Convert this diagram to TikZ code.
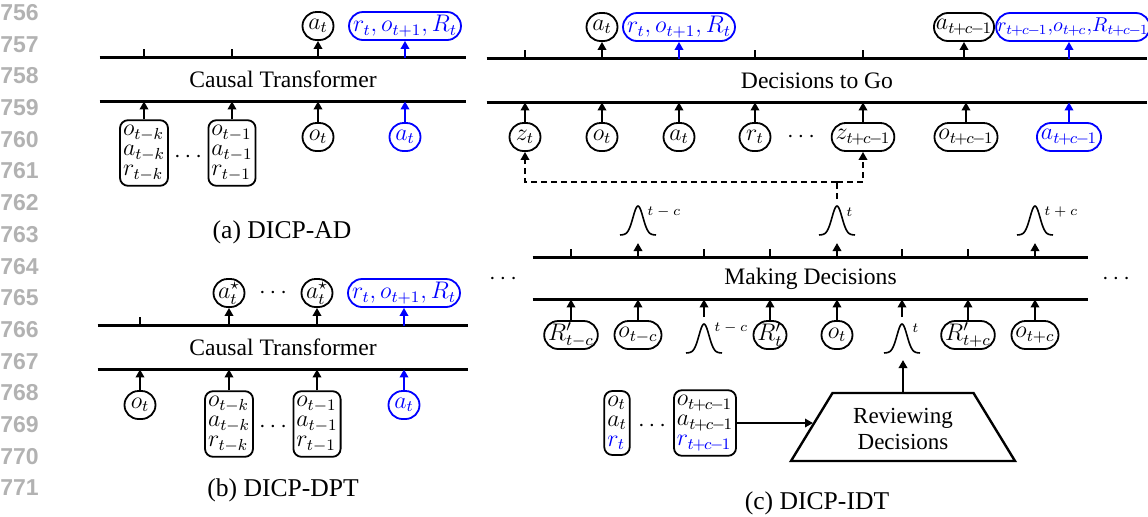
\documentclass[tikz,border=0pt]{standalone}
\usepackage{fontspec}
\setmainfont{Liberation Serif}
\setsansfont{Liberation Sans}
\usetikzlibrary{arrows.meta}
\definecolor{lngray}{RGB}{178,178,178}
\definecolor{pblue}{RGB}{0,0,255}
\newcommand{\tcmo}{t\mkern-1.5mu+\mkern-1.5mu c\mkern-1.5mu-\mkern-1.5mu 1}
\newcommand{\tpcx}{t\mkern-1.5mu+\mkern-1.5mu c}
\tikzset{
  fnt/.style={font=\fontsize{11.5}{13}\selectfont},
  bar/.style={font=\fontsize{11.8}{13}\selectfont, minimum height=21.5pt, inner sep=0pt},
  barline/.style={line width=1.3pt},
  tok/.style={fnt, draw, line width=0.9pt, rounded corners=7pt, minimum width=15.5pt,
    minimum height=14pt, inner xsep=2pt, inner ysep=0pt},
  btok/.style={tok, pblue, text=pblue},
  stack/.style={draw, line width=0.9pt, rounded corners=4pt, align=left,
    inner xsep=1.5pt, inner ysep=2.5pt, font=\fontsize{11.5}{10}\selectfont},
  arr/.style={line width=1pt, -{Triangle[length=4pt,width=4.2pt]}},
  barr/.style={arr, pblue},
  tk/.style={line width=1pt},
  dsh/.style={line width=1.2pt, dash pattern=on 3pt off 2pt},
  dotsn/.style={font=\fontsize{12.5}{13}\selectfont, inner sep=0pt},
  captext/.style={font=\fontsize{12.8}{14}\selectfont},
  lnum/.style={font=\fontsize{11.5}{12}\selectfont\sffamily\bfseries, text=lngray, anchor=west, inner sep=0pt},
  glab/.style={font=\fontsize{7}{8}\selectfont, anchor=west, inner sep=0pt},
  revtext/.style={fnt, align=center, inner sep=0pt},
  trapline/.style={line width=1.2pt, line join=miter},
  gausspk/.pic={\draw[line width=0.8pt] plot[smooth, domain=-18:18, samples=37] (\x,{-29*exp(-(\x*\x)/50)});}
}
\begin{document}
\begin{tikzpicture}[x=0.5pt,y=-0.5pt]
\useasboundingbox (0,0) rectangle (1148,516);

% line numbers
\foreach \i in {0,...,15}{
  \pgfmathtruncatemacro{\ln}{756+\i}
  \node[lnum] (ln\i) at (0,{12.5+31.7*\i}) {\ln};
}

% ---------------- (a) DICP-AD ----------------
\node[bar, minimum width=183pt] (barA) at (283,79.5) {Causal Transformer};
\draw[barline] (barA.north west) -- (barA.north east);
\draw[barline] (barA.south west) -- (barA.south east);
\coordinate (tA1) at (144,58);
\coordinate (tA2) at (232,58);
\draw[tk] (tA1) -- ++(0,-9);
\draw[tk] (tA2) -- ++(0,-9);

\node[tok] (aA) at (318,26) {$a_t$};
\node[btok] (rA) at (405,26) {$r_t, o_{t+1}, R_t$};
\draw[arr] (aA.south |- barA.north) -- (aA.south);
\draw[barr] (rA.south |- barA.north) -- (rA.south);

\node[stack] (sA1) at (144,153) {$o_{t-k}$\\$a_{t-k}$\\$r_{t-k}$};
\node[dotsn] (dA) at (188,157) {$\cdots$};
\node[stack] (sA2) at (232,153) {$o_{t-1}$\\$a_{t-1}$\\$r_{t-1}$};
\node[tok] (oA) at (318,137) {$o_t$};
\node[btok] (baA) at (405,137) {$a_t$};
\foreach \n in {sA1,sA2,oA}{\draw[arr] (\n.north) -- (\n.north |- barA.south);}
\draw[barr] (baA.north) -- (baA.north |- barA.south);
\node[captext] (capA) at (282,232) {(a) DICP-AD};

% ---------------- (b) DICP-DPT ----------------
\node[bar, minimum width=185pt] (barB) at (283,347.5) {Causal Transformer};
\draw[barline] (barB.north west) -- (barB.north east);
\draw[barline] (barB.south west) -- (barB.south east);
\coordinate (tB1) at (140,326);
\draw[tk] (tB1) -- ++(0,-9);

\node[tok] (asB1) at (229,293) {$a_t^{\star}$};
\node[dotsn] (dB1) at (273,293) {$\cdots$};
\node[tok] (asB2) at (317,293) {$a_t^{\star}$};
\node[btok] (rB) at (404,293) {$r_t, o_{t+1}, R_t$};
\draw[arr] (asB1.south |- barB.north) -- (asB1.south);
\draw[arr] (asB2.south |- barB.north) -- (asB2.south);
\draw[barr] (rB.south |- barB.north) -- (rB.south);

\node[tok] (oB) at (140,405) {$o_t$};
\node[stack] (sB1) at (229,424) {$o_{t-k}$\\$a_{t-k}$\\$r_{t-k}$};
\node[dotsn] (dB2) at (273,427) {$\cdots$};
\node[stack] (sB2) at (317,424) {$o_{t-1}$\\$a_{t-1}$\\$r_{t-1}$};
\node[btok] (baB) at (404,405) {$a_t$};
\foreach \n in {oB,sB1,sB2}{\draw[arr] (\n.north) -- (\n.north |- barB.south);}
\draw[barr] (baB.north) -- (baB.north |- barB.south);
\node[captext] (capB) at (283,490) {(b) DICP-DPT};

% ---------------- (c) DICP-IDT ----------------
\node[bar, minimum width=330pt] (barC) at (817,80.5) {Decisions to Go};
\draw[barline] (barC.north west) -- (barC.north east);
\draw[barline] (barC.south west) -- (barC.south east);
\foreach \x/\k in {525/1,755/2,863/3}{
  \coordinate (tC\k) at (\x,59);
  \draw[tk] (tC\k) -- ++(0,-9);
}
\node[tok] (aC1) at (602,27) {$a_t$};
\node[btok] (rC1) at (679,27) {$r_t, o_{t+1}, R_t$};
\node[tok, inner xsep=1pt] (aC2) at (964,27) {$a_{\tcmo}$};
\node[btok, font=\fontsize{10.2}{12}\selectfont, inner xsep=0.5pt] (rC2) at (1073,27) {$r_{\tcmo},\!o_{\tpcx},\!R_{\tcmo}$};
\draw[arr] (aC2.south |- barC.north) -- (aC2.south);
\draw[arr] (aC1.south |- barC.north) -- (aC1.south);
\draw[barr] (rC1.south |- barC.north) -- (rC1.south);
\draw[barr] ([xshift=-2pt]rC2.south |- barC.north) -- ([xshift=-2pt]rC2.south);

\node[tok] (zC1) at (525,137) {$z_t$};
\node[tok] (oC1) at (602,137) {$o_t$};
\node[tok] (aC3) at (679,137) {$a_t$};
\node[tok] (rC3) at (755,137) {$r_t$};
\node[dotsn] (dC1) at (801,137) {$\cdots$};
\node[tok] (zC2) at (863,137) {$z_{\tcmo}$};
\node[tok] (oC2) at (966,137) {$o_{\tcmo}$};
\node[btok] (aC4) at (1069,137) {$a_{\tcmo}$};
\foreach \n in {zC1,oC1,aC3,rC3,zC2,oC2}{\draw[arr] (\n.north) -- (\n.north |- barC.south);}
\draw[barr] (aC4.north) -- (aC4.north |- barC.south);

% dashed connections
\coordinate (dj) at (837,182);
\coordinate (gj) at (837,199);
\draw[dsh] (gj) -- (dj);
\draw[dsh, arr] (dj) -| (zC1.south);
\draw[dsh, arr] (dj) -| (zC2.south);

% Making Decisions
\node[bar, minimum width=277.5pt, minimum height=20.5pt] (barM) at (810.5,278.5) {Making Decisions};
\draw[barline] (barM.north west) -- (barM.north east);
\draw[barline] (barM.south west) -- (barM.south east);
\node[dotsn] (dM1) at (503,279) {$\cdots$};
\node[dotsn] (dM2) at (1116,279) {$\cdots$};
\foreach \x/\k in {571/1,704/2,770/3,902/4,968/5}{
  \coordinate (tM\k) at (\x,258);
  \draw[tk] (tM\k) -- ++(0,-9);
}
% top gaussians
\foreach \x/\lab/\k in {638/{t-c}/1,837/{t}/2,1035/{t+c}/3}{
  \pic at (\x,235) {gausspk};
  \coordinate (gT\k) at (\x,243);
  \node[glab] (gl\k) at (\x+9,212) {$\lab$};
  \draw[arr] (gT\k |- barM.north) -- (gT\k);
}
% bottom row
\node[tok] (Rm1) at (571,335) {$R'_{t-c}$};
\node[tok] (om1) at (638,335) {$o_{t-c}$};
\node[tok] (Rm2) at (770,335) {$R'_t$};
\node[tok] (om2) at (837,335) {$o_t$};
\node[tok] (Rm3) at (968,335) {$R'_{t+c}$};
\node[tok] (om3) at (1035,335) {$o_{t+c}$};
\foreach \n in {Rm1,om1,Rm2,om2,Rm3,om3}{\draw[arr] (\n.north) -- (\n.north |- barM.south);}
\foreach \x/\lab/\k in {704/{t-c}/1,902/{t}/2}{
  \pic at (\x,353) {gausspk};
  \coordinate (gB\k) at (\x,317);
  \node[glab] (glb\k) at (\x+10,328) {$\lab$};
  \draw[arr] (gB\k) -- (gB\k |- barM.south);
}

% bottom inputs
\node[stack] (sC1) at (617,423) {$o_t$\\$a_t$\\$\color{pblue}r_t$};
\node[dotsn] (dC2) at (652,426) {$\cdots$};
\node[stack] (sC2) at (705,423) {$o_{\tcmo}$\\$a_{\tcmo}$\\$\color{pblue}r_{\tcmo}$};
\node[revtext] (rev) at (903,429) {Reviewing\\Decisions};
\draw[trapline] ([shift={(-70.5,-36)}]rev.center) -- ([shift={(70.5,-36)}]rev.center)
  -- ([shift={(112,32)}]rev.center) -- ([shift={(-112,32)}]rev.center) -- cycle;
\draw[arr] (sC2.east) -- ([shift={(-90,-6)}]rev.center);
\draw[arr] ([shift={(0,-36)}]rev.center) -- ([shift={(0,-69)}]rev.center);
\node[captext] (capC) at (817,503) {(c) DICP-IDT};
\end{tikzpicture}
\end{document}
